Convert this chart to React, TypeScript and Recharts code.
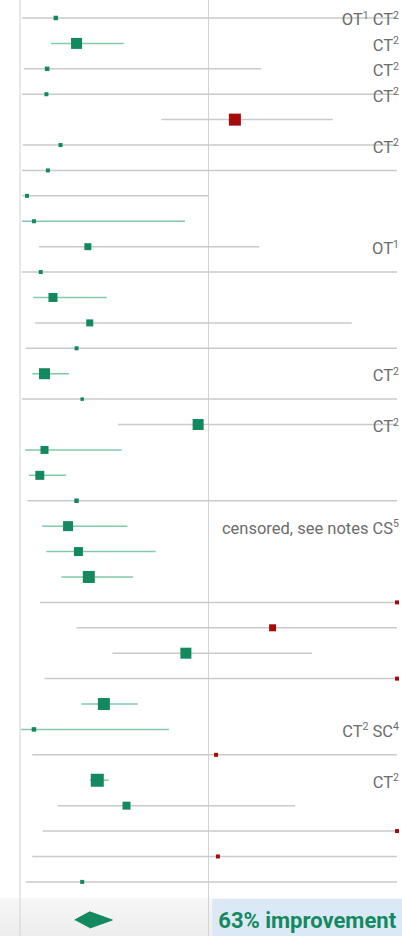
import React from 'react';
import { ScatterChart, Scatter, XAxis, YAxis, ReferenceLine, ReferenceArea } from 'recharts';

// risk ratio per study, top to bottom (anything past 2 sits on the right edge)
const effects = [0.19, 0.3, 0.144, 0.14, 1.14, 0.215, 0.148, 0.037, 0.074, 0.36, 0.11, 0.175, 0.37, 0.3, 0.13, 0.33, 0.945, 0.13, 0.105, 0.3, 0.255, 0.31, 0.365, 2, 1.34, 0.88, 2, 0.445, 0.074, 1.04, 0.41, 0.565, 2, 1.05, 0.33];
const lower = [0.01, 0.165, 0.02, 0.01, 0.75, 0.015, 0.01, 0.01, 0.01, 0.1, 0.01, 0.07, 0.08, 0.03, 0.065, 0.01, 0.52, 0.027, 0.047, 0.04, 0.117, 0.14, 0.22, 0.106, 0.3, 0.49, 0.13, 0.325, 0.005, 0.065, 0.37, 0.2, 0.12, 0.065, 0.03];
const upper = [2, 0.55, 1.28, 2, 1.66, 2, 2, 1.0, 0.875, 1.27, 2, 0.46, 1.76, 2, 0.26, 2, 2, 0.54, 0.245, 2, 0.57, 0.72, 0.6, 2, 2, 1.55, 2, 0.625, 0.79, 2, 0.47, 1.46, 2, 2, 2];
const weights = [1.5, 8, 1.5, 1, 9, 1, 1, 1, 1, 4, 1, 6, 4, 1, 8, 0.5, 8, 5, 6, 1.5, 7, 6, 9, 1, 4, 8, 1, 9, 1.5, 1, 10, 5, 1, 1, 1];
const notes = ['OT^1 CT^2', 'CT^2', 'CT^2', 'CT^2', '', 'CT^2', '', '', '', 'OT^1', '', '', '', '', 'CT^2', '', 'CT^2', '', '', '', 'censored, see notes CS^5', '', '', '', '', '', '', '', 'CT^2 SC^4', '', 'CT^2', '', '', '', ''];

// pooled estimate
const pooled = 0.37;
const pooledLower = 0.29;
const pooledUpper = 0.49;
const summaryText = '63% improvement';

const GREEN = '#14895f';
const RED = '#a50b0b';
const GRID = '#d2d2d2';
const CI_GREY = '#cacaca';
const CI_GREEN = '#82caa9';

const ROW_TOP = -0.708;
const ROW_BOTTOM = 36.13;
const SUMMARY_ROW = 35.5;

const points = effects.map((rr, i) => ({ x: rr, y: i, w: weights[i] }));
const labelRows = notes
  .map((note, i) => ({ x: 2, y: i, note }))
  .filter((d) => d.note !== '');
const diamond = [
  { x: pooledLower, y: SUMMARY_ROW },
  { x: pooled, y: SUMMARY_ROW - 0.32 },
  { x: pooledUpper, y: SUMMARY_ROW },
  { x: pooled, y: SUMMARY_ROW + 0.32 },
];

const StudySquare = (props: any) => {
  const { cx, cy, payload } = props;
  const s = 3 + payload.w;
  return (
    <rect
      x={cx - s / 2}
      y={cy - s / 2}
      width={s}
      height={s}
      fill={payload.x > 1 ? RED : GREEN}
    />
  );
};

// "CT^2" -> CT with a raised 2
const NoteLabel = (props: any) => {
  const { cx, cy, payload } = props;
  const parts = payload.note.split(/(\^\d)/).filter((p: string) => p !== '');
  let raised = false;
  return (
    <text
      x={cx + 2}
      y={cy + 7.5}
      textAnchor="end"
      fontFamily="Roboto, sans-serif"
      fontSize={16.5}
      fill="#6c6c6c"
    >
      {parts.map((p: string, k: number) => {
        if (p.startsWith('^')) {
          raised = true;
          return (
            <tspan key={k} fontSize={10.5} dy={-6.5}>
              {p.slice(1)}
            </tspan>
          );
        }
        const dy = raised ? 6.5 : 0;
        raised = false;
        return (
          <tspan key={k} dy={dy}>
            {p}
          </tspan>
        );
      })}
    </text>
  );
};

export default function App() {
  return (
    <div style={{ position: 'absolute', left: 0, top: 0, background: '#fff' }}>
      <ScatterChart width={402} height={936} margin={{ top: 0, right: 5, bottom: 0, left: 20 }}>
        <defs>
          <linearGradient id="bandFill" x1="0" y1="0" x2="0" y2="1">
            <stop offset="0%" stopColor="#f7f7f7" />
            <stop offset="100%" stopColor="#ededed" />
          </linearGradient>
        </defs>
        <XAxis type="number" dataKey="x" domain={[0, 2]} hide />
        <YAxis type="number" dataKey="y" domain={[ROW_TOP, ROW_BOTTOM]} reversed hide />

        <ReferenceArea
          x1={-0.11}
          x2={2.03}
          y1={34.63}
          y2={ROW_BOTTOM}
          ifOverflow="visible"
          fill="url(#bandFill)"
          fillOpacity={1}
        />
        <ReferenceArea
          x1={1.02}
          x2={2.03}
          y1={34.67}
          y2={ROW_BOTTOM}
          ifOverflow="visible"
          fill="#dbe8f5"
          fillOpacity={1}
          label={{
            value: summaryText,
            position: 'insideLeft',
            offset: 6,
            dy: 3,
            fill: GREEN,
            fontSize: 22,
            fontWeight: 700,
            fontFamily: 'Roboto, sans-serif',
          }}
        />

        <ReferenceLine x={0} stroke={GRID} strokeWidth={1} />
        <ReferenceLine x={1} stroke={GRID} strokeWidth={1} />

        {effects.map((_, i) => (
          <ReferenceLine
            key={i}
            segment={[
              { x: lower[i], y: i },
              { x: upper[i], y: i },
            ]}
            stroke={upper[i] < 1 ? CI_GREEN : CI_GREY}
            strokeWidth={1.5}
          />
        ))}

        <Scatter data={points} shape={StudySquare} isAnimationActive={false} />
        <Scatter data={labelRows} shape={NoteLabel} isAnimationActive={false} />
        <Scatter
          data={diamond}
          line={{ fill: GREEN, stroke: GREEN, strokeWidth: 1 }}
          lineJointType="linear"
          shape={() => <g />}
          isAnimationActive={false}
        />
      </ScatterChart>
    </div>
  );
}
